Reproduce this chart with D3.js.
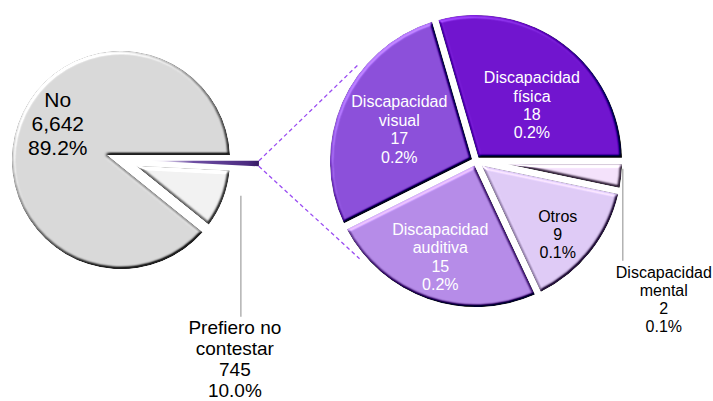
<!DOCTYPE html>
<html>
<head>
<meta charset="utf-8">
<script src="https://cdn.jsdelivr.net/npm/d3@7"></script>
<style>
body { margin: 0; background: #fff; }
text { font-family: "Liberation Sans", Arial, sans-serif; }
</style>
</head>
<body>
<div id="chart"></div>
<script>
// main pie (clockwise from 3 o'clock)
var mainNames = ['Discapacidad', 'Prefiero no\ncontestar', 'No'];
var mainValues = [61, 745, 6642];
var mainPct = ['0.8%', '10.0%', '89.2%'];

// breakdown of "Discapacidad" (clockwise from 3 o'clock)
var subNames = ['Discapacidad\nmental', 'Otros', 'Discapacidad\nauditiva', 'Discapacidad\nvisual', 'Discapacidad\nfísica'];
var subValues = [2, 9, 15, 17, 18];
var subPct = ['0.1%', '0.1%', '0.2%', '0.2%', '0.2%'];

var width = 713;
var height = 401;
var fmt = d3.format(',');

var mainPie = {cx: 121, cy: 160, r: 109, gap: 5};
var subPie = {cx: 476, cy: 161, r: 146, gap: 3.3};

var mainColors = ['#4b2a80', '#f2f2f2', '#d9d9d9'];
var subColors = ['#f4e2fb', '#dfcbf6', '#b68ce8', '#8c50da', '#7115cf'];
var subTextColors = ['#000', '#000', '#fff', '#fff', '#fff'];

// label placement: inside labels polar from pie centre, outside ones with leader
var mainLabelPos = [null, {leader: 16, len: 121, dx: -6, dy: 17, fs: 19, lh: 21}, {ang: 210, dist: 73, fs: 21, lh: 24}];
var subLabelPos = [
    {leader: 3, len: 92, dx: 41, dy: 17, fs: 16, lh: 18},
    {ang: 42, dist: 110, fs: 16, lh: 18},
    {ang: 110.5, dist: 102, fs: 16, lh: 18.4},
    {ang: 202.5, dist: 83, fs: 16, lh: 18.4},
    {ang: 315, dist: 79, fs: 16, lh: 18.4}
];

var svg = d3.select('#chart')
    .append('svg')
        .attr('width', width)
        .attr('height', height);

var defs = svg.append('defs');

// soft bevel like the office pie style
var f = defs.append('filter')
    .attr('id', 'bevel')
    .attr('x', '-10%').attr('y', '-10%')
    .attr('width', '120%').attr('height', '120%')
    .attr('color-interpolation-filters', 'sRGB');
f.append('feGaussianBlur')
    .attr('in', 'SourceAlpha')
    .attr('stdDeviation', 1.8)
    .attr('result', 'blur');
f.append('feDiffuseLighting')
    .attr('in', 'blur')
    .attr('surfaceScale', 4)
    .attr('diffuseConstant', 1)
    .attr('lighting-color', '#fff')
    .attr('result', 'light')
  .append('feDistantLight')
    .attr('azimuth', 235)
    .attr('elevation', 50);
f.append('feComposite')
    .attr('in', 'SourceGraphic')
    .attr('in2', 'light')
    .attr('operator', 'arithmetic')
    .attr('k1', 0).attr('k2', 1).attr('k3', 0.95)
    .attr('k4', -0.95 * Math.sin(50 * Math.PI / 180))
    .attr('result', 'lit');
f.append('feComposite')
    .attr('in', 'lit')
    .attr('in2', 'SourceAlpha')
    .attr('operator', 'in');

var pie = d3.pie()
    .sort(null)
    .startAngle(Math.PI / 2)
    .endAngle(Math.PI / 2 + 2 * Math.PI);

// d3 angle (0 = 12 o'clock, clockwise) -> point
function pt(cx, cy, r, a) {
    return [cx + r * Math.sin(a), cy - r * Math.cos(a)];
}

// slice with edges pulled in parallel by "gap"
function slicePath(p, d) {
    var half = (d.endAngle - d.startAngle) / 2;
    var mid = (d.startAngle + d.endAngle) / 2;
    var apex = pt(p.cx, p.cy, p.gap / Math.sin(half), mid);
    var da = Math.asin(p.gap / p.r);
    var a0 = d.startAngle + da, a1 = d.endAngle - da;
    var c0 = pt(p.cx, p.cy, p.r, a0);
    var path = d3.path();
    path.moveTo(apex[0], apex[1]);
    path.lineTo(c0[0], c0[1]);
    path.arc(p.cx, p.cy, p.r, a0 - Math.PI / 2, a1 - Math.PI / 2, false);
    path.closePath();
    return path.toString();
}

var mainArcs = pie(mainValues);
var subArcs = pie(subValues);

// connector lines from the small slice to the second pie
var sliver = mainArcs[0];
var explode = 29;
var sMid = (sliver.startAngle + sliver.endAngle) / 2;
var sApex = pt(mainPie.cx, mainPie.cy, explode, sMid);
var sTop = pt(sApex[0], sApex[1], mainPie.r, sliver.startAngle);
var sBot = pt(sApex[0], sApex[1], mainPie.r, sliver.endAngle);
var joinTop = pt(subPie.cx, subPie.cy, subPie.r + 6, (220 + 90) * Math.PI / 180);
var joinBot = pt(subPie.cx, subPie.cy, subPie.r + 6, (140 + 90) * Math.PI / 180);

svg.selectAll('.connector')
    .data([[sTop, joinTop], [sBot, joinBot]])
    .enter()
    .append('line')
        .attr('class', 'connector')
        .attr('x1', function(d) { return d[0][0]; })
        .attr('y1', function(d) { return d[0][1]; })
        .attr('x2', function(d) { return d[1][0]; })
        .attr('y2', function(d) { return d[1][1]; })
        .style('stroke', '#9a4cf2')
        .style('stroke-width', 1.3)
        .style('stroke-dasharray', '4,3');

// leader lines start on the slice's outer arc
function leader(p, d, pos) {
    var a = (pos.leader + 90) * Math.PI / 180;
    var mid = (d.startAngle + d.endAngle) / 2;
    var half = (d.endAngle - d.startAngle) / 2;
    var ap = pt(p.cx, p.cy, p.gap / Math.sin(half), mid);
    var s = pt(ap[0], ap[1], p.r, a);
    return {x: s[0], y1: s[1], y2: s[1] + pos.len};
}

var leaders = [];
mainArcs.forEach(function(d, i) {
    if (mainLabelPos[i] && mainLabelPos[i].leader !== undefined) leaders.push(leader(mainPie, d, mainLabelPos[i]));
});
subArcs.forEach(function(d, i) {
    if (subLabelPos[i].leader !== undefined) {
        var a = (subLabelPos[i].leader + 90) * Math.PI / 180;
        var s = pt(subPie.cx, subPie.cy, subPie.r + 1, a);
        leaders.push({x: s[0], y1: s[1], y2: s[1] + subLabelPos[i].len});
    }
});

svg.selectAll('.leader')
    .data(leaders)
    .enter()
    .append('line')
        .attr('class', 'leader')
        .attr('x1', function(d) { return d.x; })
        .attr('x2', function(d) { return d.x; })
        .attr('y1', function(d) { return d.y1; })
        .attr('y2', function(d) { return d.y2; })
        .style('stroke', '#a6a6a6')
        .style('stroke-width', 1.3);

// sliver gradient, in the sliver's own (translated) coordinates
var grad = defs.append('linearGradient')
    .attr('id', 'sliverGrad')
    .attr('gradientUnits', 'userSpaceOnUse')
    .attr('x1', 0).attr('y1', 0)
    .attr('x2', mainPie.r).attr('y2', 0);
grad.append('stop').attr('offset', '0').attr('stop-color', '#ffffff');
grad.append('stop').attr('offset', '0.12').attr('stop-color', '#e4dcef');
grad.append('stop').attr('offset', '0.4').attr('stop-color', '#6e4fa3');
grad.append('stop').attr('offset', '0.9').attr('stop-color', '#4b2a80');
grad.append('stop').attr('offset', '1').attr('stop-color', '#361a62');

var sliverArc = d3.arc().innerRadius(0).outerRadius(mainPie.r);

svg.append('path')
    .attr('d', sliverArc(sliver))
    .attr('transform', 'translate(' + sApex[0] + ',' + sApex[1] + ')')
    .style('fill', 'url(#sliverGrad)');

// main pie slices
svg.selectAll('.mainSlice')
    .data(mainArcs.slice(1))
    .enter()
    .append('path')
        .attr('class', 'mainSlice')
        .attr('d', function(d) { return slicePath(mainPie, d); })
        .style('fill', function(d) { return mainColors[d.index]; })
        .attr('filter', 'url(#bevel)');

svg.selectAll('.subSlice')
    .data(subArcs)
    .enter()
    .append('path')
        .attr('class', 'subSlice')
        .attr('d', function(d) { return slicePath(subPie, d); })
        .style('fill', function(d) { return subColors[d.index]; })
        .attr('filter', 'url(#bevel)');

// labels
function drawLabel(p, d, name, value, pct, pos, color, lead) {
    var lines = name.split('\n').concat([fmt(value), pct]);
    var x, y0;
    if (pos.leader !== undefined) {
        x = lead.x + pos.dx;
        y0 = lead.y2 + pos.dy;
    } else {
        var a = pos.ang * Math.PI / 180;
        x = p.cx + pos.dist * Math.cos(a);
        var yc = p.cy + pos.dist * Math.sin(a);
        y0 = yc - (lines.length - 1) * pos.lh / 2 + pos.fs * 0.36;
    }
    var t = svg.append('text')
        .attr('text-anchor', 'middle')
        .style('font-size', pos.fs + 'px')
        .style('fill', color);
    lines.forEach(function(l, k) {
        t.append('tspan')
            .attr('x', x)
            .attr('y', y0 + k * pos.lh)
            .text(l);
    });
}

var li = 0;
mainArcs.forEach(function(d, i) {
    var pos = mainLabelPos[i];
    if (!pos) return;
    var lead = null;
    if (pos.leader !== undefined) { lead = leaders[li]; li++; }
    drawLabel(mainPie, d, mainNames[i], mainValues[i], mainPct[i], pos, '#000', lead);
});
subArcs.forEach(function(d, i) {
    var pos = subLabelPos[i];
    var lead = null;
    if (pos.leader !== undefined) { lead = leaders[li]; li++; }
    drawLabel(subPie, d, subNames[i], subValues[i], subPct[i], pos, subTextColors[i], lead);
});
</script>
</body>
</html>
